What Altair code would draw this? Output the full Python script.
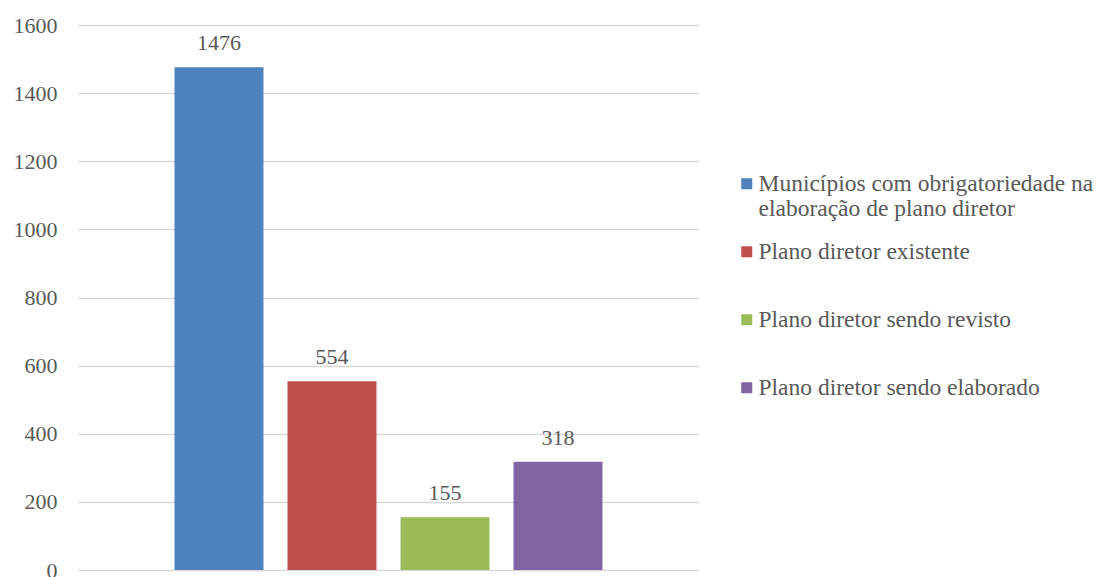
import altair as alt
import pandas as pd

categories = [
    "Municípios com obrigatoriedade na elaboração de plano diretor",
    "Plano diretor existente",
    "Plano diretor sendo revisto",
    "Plano diretor sendo elaborado",
]
values = [1476, 554, 155, 318]
colors = ["#4F81BD", "#C0504D", "#9BBB59", "#8064A2"]
y_ticks = [0, 200, 400, 600, 800, 1000, 1200, 1400, 1600]

df = pd.DataFrame({"cat": categories, "val": values})

serif = "'Liberation Serif', 'Times New Roman', Times, 'DejaVu Serif', serif"

x_enc = alt.X(
    "cat:N",
    sort=categories,
    axis=None,
    scale=alt.Scale(paddingInner=0.2124, paddingOuter=0.854),
)
y_enc = alt.Y(
    "val:Q",
    scale=alt.Scale(domain=[0, 1600], nice=False),
    axis=alt.Axis(
        values=y_ticks,
        format="d",
        grid=True,
        gridColor="#d9d9d9",
        gridWidth=1.5,
        domain=False,
        ticks=False,
        labelFont=serif,
        labelFontSize=22,
        labelColor="#595959",
        labelPadding=21,
        title=None,
    ),
)

label_expr = (
    "datum.label == 'Municípios com obrigatoriedade na elaboração de plano diretor' "
    "? ['Municípios com obrigatoriedade na', 'elaboração de plano diretor'] "
    ": [datum.label, '']"
)

bars = alt.Chart(df).mark_bar().encode(
    x=x_enc,
    y=y_enc,
    color=alt.Color(
        "cat:N",
        sort=categories,
        scale=alt.Scale(domain=categories, range=colors),
        legend=alt.Legend(
            title=None,
            orient="none",
            legendX=657,
            legendY=147,
            symbolType="square",
            symbolSize=121,
            symbolStrokeWidth=0,
            symbolOpacity=1,
            labelFont=serif,
            labelFontSize=23.5,
            labelColor="#595959",
            labelOffset=0,
            labelLimit=0,
            labelExpr=label_expr,
            rowPadding=18,
            padding=0,
        ),
    ),
)

texts = alt.Chart(df).mark_text(
    font=serif, fontSize=22, color="#595959", baseline="alphabetic", dy=-17
).encode(x=x_enc, y=y_enc, text=alt.Text("val:Q"))

chart = (
    alt.layer(bars, texts)
    .properties(
        width=621,
        height=545,
        autosize=alt.AutoSizeParams(type="none"),
        padding={"left": 78, "top": 25, "right": 400, "bottom": 7},
        background="white",
    )
    .configure_view(stroke=None)
)

chart.save("out.html", embed_options={"renderer": "svg", "actions": False})
